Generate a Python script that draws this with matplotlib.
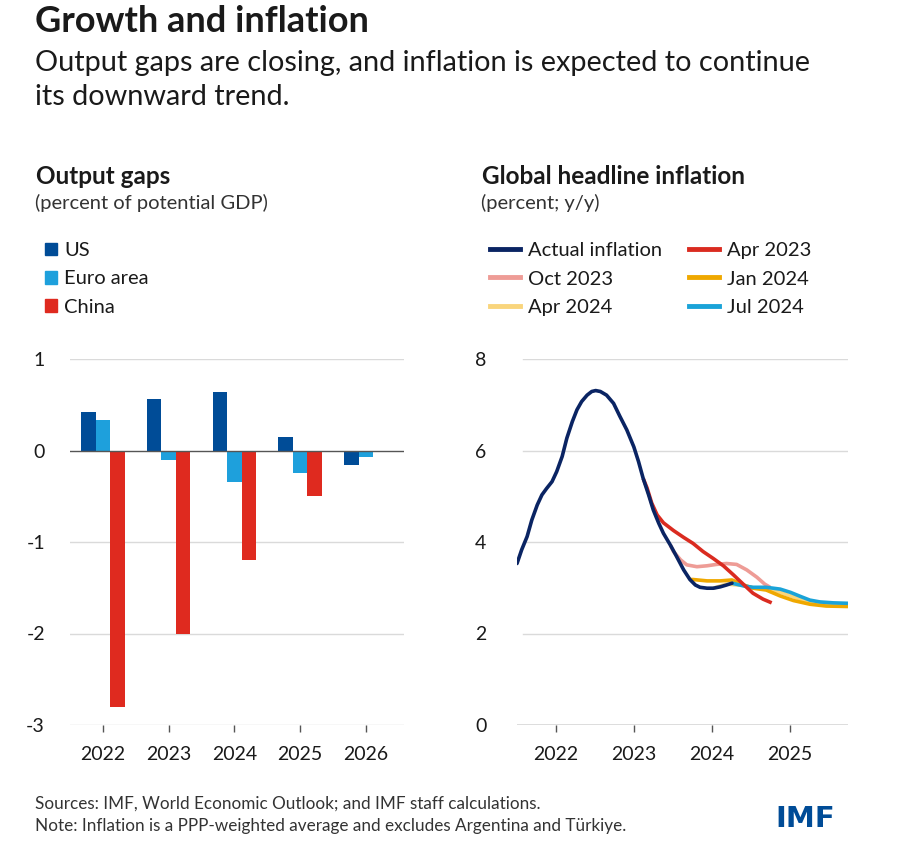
import matplotlib.pyplot as plt
import numpy as np
from matplotlib.patches import Patch
from matplotlib.lines import Line2D

plt.rcParams["font.family"] = ["Lato", "DejaVu Sans"]

W, H = 904, 865

# ---- output gaps data ----
years = ["2022", "2023", "2024", "2025", "2026"]
us = [0.42, 0.56, 0.64, 0.15, -0.16]
euro = [0.33, -0.10, -0.34, -0.25, -0.07]
china = [-2.80, -2.00, -1.20, -0.50, np.nan]

# ---- inflation data (decimal years) ----
actual_x = [2021.50, 2021.56, 2021.63, 2021.69, 2021.76, 2021.82, 2021.88, 2021.95,
            2022.01, 2022.08, 2022.14, 2022.21, 2022.27, 2022.33, 2022.40, 2022.46,
            2022.51, 2022.57, 2022.65, 2022.74, 2022.82, 2022.91, 2023.00, 2023.06,
            2023.12, 2023.19, 2023.25, 2023.32, 2023.38, 2023.47, 2023.55, 2023.64,
            2023.72, 2023.79, 2023.85, 2023.94, 2024.02, 2024.11, 2024.19, 2024.26]
actual_y = [3.53, 3.83, 4.12, 4.48, 4.81, 5.03, 5.17, 5.32,
            5.54, 5.87, 6.27, 6.63, 6.89, 7.07, 7.21, 7.29,
            7.31, 7.29, 7.21, 7.03, 6.75, 6.45, 6.08, 5.76,
            5.39, 5.03, 4.70, 4.41, 4.19, 3.93, 3.68, 3.39,
            3.18, 3.06, 3.01, 2.99, 2.99, 3.02, 3.06, 3.10]

apr23_x = [2023.12, 2023.17, 2023.23, 2023.30, 2023.38, 2023.51, 2023.64, 2023.76,
           2023.89, 2024.02, 2024.15, 2024.28, 2024.41, 2024.53, 2024.66, 2024.77]
apr23_y = [5.39, 5.18, 4.85, 4.59, 4.42, 4.25, 4.10, 3.97,
           3.79, 3.64, 3.48, 3.28, 3.07, 2.88, 2.75, 2.67]

oct23_x = [2023.47, 2023.51, 2023.60, 2023.68, 2023.81, 2023.94, 2024.06, 2024.19,
           2024.32, 2024.45, 2024.58, 2024.68, 2024.75]
oct23_y = [3.93, 3.79, 3.61, 3.50, 3.46, 3.48, 3.51, 3.53,
           3.51, 3.39, 3.23, 3.08, 3.01]

jan24_x = [2023.72, 2023.76, 2023.94, 2024.11, 2024.26, 2024.41, 2024.53, 2024.70,
           2024.88, 2025.05, 2025.26, 2025.47, 2025.75]
jan24_y = [3.18, 3.18, 3.15, 3.15, 3.17, 3.06, 2.99, 2.95,
           2.82, 2.72, 2.64, 2.60, 2.59]

apr24_x = [2024.02, 2024.19, 2024.41, 2024.53, 2024.70, 2024.88, 2025.05, 2025.26, 2025.47, 2025.75]
apr24_y = [2.99, 3.08, 3.05, 3.00, 2.98, 2.90, 2.80, 2.69, 2.63, 2.62]

jul24_x = [2024.26, 2024.41, 2024.53, 2024.70, 2024.88, 2025.01, 2025.14, 2025.26,
           2025.39, 2025.56, 2025.75]
jul24_y = [3.10, 3.04, 3.01, 3.01, 2.97, 2.90, 2.81, 2.73,
           2.69, 2.67, 2.66]

C_US, C_EURO, C_CHINA = "#004C97", "#1EA0DC", "#DF2A1F"
C_ACT, C_APR23, C_OCT23 = "#0A2463", "#DA2B20", "#EE9C96"
C_JAN24, C_APR24, C_JUL24 = "#EFA800", "#F9D57C", "#1AA3D8"
GRID = "#DADADA"
TXT = "#1A1A1A"


def fx(px):
    return px / W


def fy(py):
    return 1 - py / H


fig = plt.figure(figsize=(W / 100, H / 100), dpi=100)

# titles
fig.text(fx(35), fy(22), "Growth and inflation", fontsize=26, fontweight="bold",
         color=TXT, va="center")
fig.text(fx(35), fy(63), "Output gaps are closing, and inflation is expected to continue",
         fontsize=20.8, color=TXT, va="center")
fig.text(fx(35), fy(97), "its downward trend.", fontsize=20.8, color=TXT, va="center")

fig.text(fx(36), fy(176), "Output gaps", fontsize=17.5, fontweight="bold", color=TXT, va="center")
fig.text(fx(35), fy(203), "(percent of potential GDP)", fontsize=14.5, color="#333333", va="center")
fig.text(fx(482), fy(176), "Global headline inflation", fontsize=17.5, fontweight="bold",
         color=TXT, va="center")
fig.text(fx(481), fy(203), "(percent; y/y)", fontsize=14.5, color="#333333", va="center")

# ---- left: bars ----
ax1 = fig.add_axes([fx(70), fy(725), fx(404) - fx(70), fy(359) - fy(725)])
x = np.arange(len(years))
bw = 0.22
ax1.bar(x - bw, us, bw, color=C_US, zorder=3)
ax1.bar(x, euro, bw, color=C_EURO, zorder=3)
ax1.bar(x + bw, china, bw, color=C_CHINA, zorder=3)
ax1.set_xlim(-0.5, 4.58)
ax1.set_ylim(-3, 1)
ax1.set_yticks([-3, -2, -1, 0, 1])
ax1.set_yticklabels(["-3", "-2", "-1", "0", "1"])
for v in [-3, -2, -1, 1]:
    ax1.axhline(v, color=GRID, lw=1, zorder=1)
ax1.axhline(0, color="#555555", lw=1, zorder=4)
ax1.set_xticks(x)
ax1.set_xticklabels(years)

# ---- right: lines ----
ax2 = fig.add_axes([fx(517), fy(725), fx(848) - fx(517), fy(359) - fy(725)])
ax2.plot(apr24_x, apr24_y, color=C_APR24, lw=2.6, zorder=2, solid_capstyle="butt")
ax2.plot(oct23_x, oct23_y, color=C_OCT23, lw=2.6, zorder=3, solid_capstyle="butt")
ax2.plot(jan24_x, jan24_y, color=C_JAN24, lw=2.6, zorder=4, solid_capstyle="butt")
ax2.plot(jul24_x, jul24_y, color=C_JUL24, lw=2.6, zorder=5, solid_capstyle="butt")
ax2.plot(apr23_x, apr23_y, color=C_APR23, lw=2.6, zorder=6, solid_capstyle="butt")
ax2.plot(actual_x, actual_y, color=C_ACT, lw=2.6, zorder=7, solid_capstyle="round",
         solid_joinstyle="round")
ax2.set_xlim(2021.5, 2025.75)
ax2.set_ylim(0, 8)
ax2.set_yticks([0, 2, 4, 6, 8])
for v in [2, 4, 6, 8]:
    ax2.axhline(v, xmin=0.018, color=GRID, lw=1, zorder=1)
ax2.axhline(0, color="#555555", lw=1, zorder=1)
ax2.set_xticks([2022, 2023, 2024, 2025])
ax2.set_xticklabels(["2022", "2023", "2024", "2025"])

for ax, pad in [(ax1, 18), (ax2, 22)]:
    for s in ax.spines.values():
        s.set_visible(False)
    ax.tick_params(axis="y", length=0, pad=pad, labelsize=14, labelcolor=TXT)
    ax.tick_params(axis="x", length=5, width=1, color="#555555", pad=10,
                   labelsize=14, labelcolor=TXT)
    ax.set_facecolor("none")

# legends
bar_handles = [Patch(color=C_US), Patch(color=C_EURO), Patch(color=C_CHINA)]
fig.legend(bar_handles, ["US", "Euro area", "China"], loc="upper left",
           bbox_to_anchor=(fx(37), fy(234)), frameon=False, fontsize=14.5,
           handlelength=0.6, handleheight=0.6, handletextpad=0.35,
           labelspacing=0.56, labelcolor=TXT, borderaxespad=0)

line_handles = [Line2D([], [], color=c, lw=3.5) for c in
                [C_ACT, C_OCT23, C_APR24, C_APR23, C_JAN24, C_JUL24]]
line_labels = ["Actual inflation", "Oct 2023", "Apr 2024", "Apr 2023", "Jan 2024", "Jul 2024"]
fig.legend(line_handles, line_labels, loc="upper left", ncol=2,
           bbox_to_anchor=(fx(482), fy(234)), frameon=False, fontsize=14.5,
           handlelength=1.5, handletextpad=0.4, columnspacing=1.3,
           labelspacing=0.56, labelcolor=TXT, borderaxespad=0)

# footnotes
fig.text(fx(35), fy(804), "Sources: IMF, World Economic Outlook; and IMF staff calculations.",
         fontsize=12.3, color="#333333", va="center")
fig.text(fx(35), fy(826), "Note: Inflation is a PPP-weighted average and excludes Argentina and Türkiye.",
         fontsize=12.3, color="#333333", va="center")
fig.text(fx(775), fy(819), "IMF", fontsize=21, fontweight="bold", color="#004C97",
         va="center", family=["DejaVu Sans"])

fig.savefig("out.png", dpi=100, facecolor="white")
